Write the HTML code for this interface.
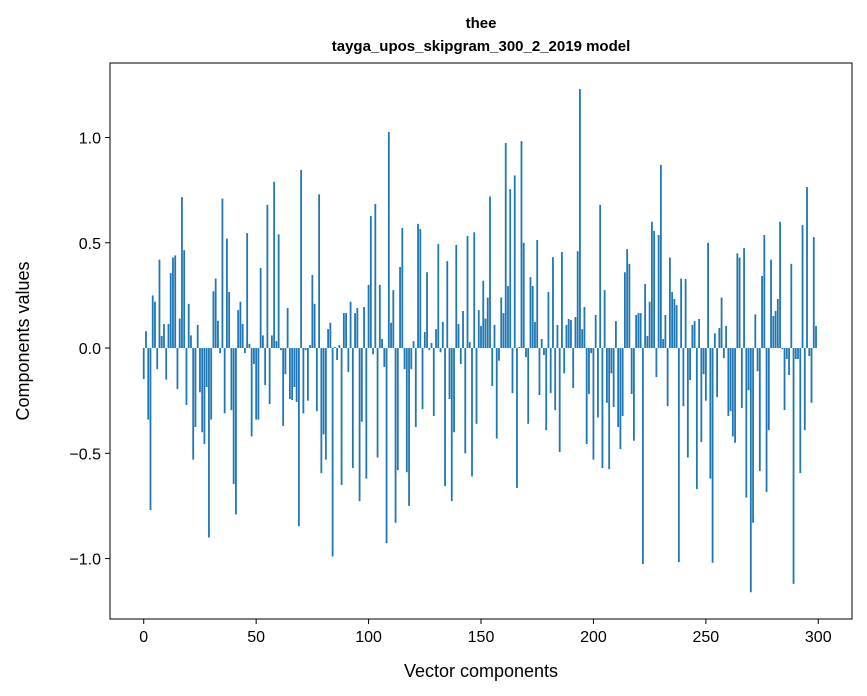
<!DOCTYPE html>
<html><head><meta charset="utf-8"><style>
html,body{margin:0;padding:0;background:#fff;}
svg{display:block;font-family:"Liberation Sans",sans-serif;}
</style></head><body>
<svg id="chart" width="867" height="696">
<text x="481" y="28" text-anchor="middle" font-size="15" font-weight="bold">thee</text>
<text x="481" y="51" text-anchor="middle" font-size="15" font-weight="bold">tayga_upos_skipgram_300_2_2019 model</text>
<g id="bars"></g>
<g id="axes"></g>
<text x="481" y="677" text-anchor="middle" font-size="18">Vector components</text>
<text transform="translate(29,341) rotate(-90)" text-anchor="middle" font-size="18">Components values</text>
</svg>
<script>
const values = [-0.147,0.08,-0.34,-0.77,0.25,0.22,-0.10,0.42,0.057,0.114,
-0.15,0.114,0.356,0.43,0.44,-0.195,0.14,0.717,0.465,-0.27,
0.21,0.06,-0.53,-0.375,0.11,-0.21,-0.40,-0.456,-0.185,-0.90,
-0.34,0.27,0.33,0.13,-0.024,0.71,-0.31,0.52,0.266,-0.295,
-0.646,-0.79,0.18,0.22,0.114,-0.024,0.546,0.02,-0.42,-0.076,
-0.34,-0.34,0.38,0.06,-0.176,0.68,-0.266,0.06,0.79,0.033,
0.54,-0.01,-0.37,-0.124,0.19,-0.242,-0.247,-0.185,-0.256,-0.846,
0.846,-0.31,-0.01,-0.25,0.014,0.347,0.21,-0.3,0.73,-0.594,
-0.41,-0.53,0.09,0.12,-0.99,0.005,-0.057,0.014,-0.65,0.166,
0.166,-0.114,0.22,-0.57,0.166,0.19,-0.727,-0.35,0.195,-0.62,
0.30,0.627,-0.03,0.684,-0.52,0.30,0.043,-0.09,-0.926,1.026,
0.12,0.275,-0.83,-0.58,0.385,0.57,-0.10,-0.59,-0.75,-0.10,
0.033,-0.375,0.59,0.565,-0.29,0.076,0.36,-0.01,0.024,-0.323,
0.09,0.494,-0.02,0.124,-0.656,0.413,-0.242,-0.727,-0.40,0.49,
0.114,-0.076,0.176,-0.50,0.532,0.028,-0.61,0.55,-0.36,0.18,
0.105,0.32,0.14,0.24,0.72,-0.18,0.11,-0.43,-0.06,0.24,
0.166,0.974,0.295,0.755,-0.214,0.82,-0.665,0.005,0.983,0.50,
-0.043,-0.36,0.337,0.295,0.124,0.513,-0.223,0.043,-0.033,-0.39,
0.266,-0.214,0.432,-0.295,0.11,-0.494,0.456,-0.12,0.11,0.138,
0.133,-0.19,0.147,0.46,1.23,0.09,0.195,-0.456,-0.218,-0.024,
-0.53,0.157,-0.33,0.68,-0.57,0.275,-0.26,-0.575,-0.12,-0.28,
0.128,-0.375,-0.48,-0.323,0.36,0.47,0.40,-0.218,-0.44,0.157,
0.166,0.166,-1.026,0.304,0.057,0.22,0.60,0.556,-0.138,0.537,
0.87,0.043,0.157,-0.276,0.43,0.266,0.233,0.204,-1.017,0.33,
-0.276,0.328,-0.52,-0.152,0.11,0.128,-0.67,0.138,-0.447,-0.124,
-0.25,0.50,-0.62,-1.02,0.07,-0.233,0.095,0.24,-0.048,0.105,
-0.323,-0.30,-0.42,-0.45,0.45,0.43,-0.285,0.475,-0.71,-0.2,
-1.16,-0.83,0.16,-0.11,-0.584,0.342,0.537,-0.684,-0.39,0.42,
0.152,0.176,0.233,0.60,-0.005,-0.295,-0.052,-0.128,0.40,-1.12,
-0.052,-0.052,-0.594,0.584,-0.39,0.765,-0.038,-0.26,0.527,0.105];
const xTicks = [0,50,100,150,200,250,300];
const yTicks = [-1.0,-0.5,0.0,0.5,1.0];
const yTickLabels = ["\u22121.0","\u22120.5","0.0","0.5","1.0"];

const L=110,R=852,T=63,B=619;
const xMin=-15,xMax=315,yMin=-1.287,yMax=1.354;
const sx=v=>L+(v-xMin)/(xMax-xMin)*(R-L);
const sy=v=>B-(v-yMin)/(yMax-yMin)*(B-T);
const NS="http://www.w3.org/2000/svg";
const bars=document.getElementById('bars');
values.forEach((v,i)=>{
  const r=document.createElementNS(NS,'rect');
  const x0=sx(i-0.4),x1=sx(i+0.4);
  const y0=sy(Math.max(v,0)),y1=sy(Math.min(v,0));
  r.setAttribute('x',x0);r.setAttribute('width',x1-x0);
  r.setAttribute('y',y0);r.setAttribute('height',Math.max(y1-y0,0.3));
  r.setAttribute('fill','#1f77b4');
  
  
  bars.appendChild(r);
});
const axes=document.getElementById('axes');
const frame=document.createElementNS(NS,'rect');
frame.setAttribute('x',L);frame.setAttribute('y',T);
frame.setAttribute('width',R-L);frame.setAttribute('height',B-T);
frame.setAttribute('fill','none');frame.setAttribute('stroke','#000');frame.setAttribute('stroke-width','1');


axes.appendChild(frame);
xTicks.forEach(t=>{
  const x=sx(t);
  const l=document.createElementNS(NS,'line');
  l.setAttribute('x1',x);l.setAttribute('x2',x);l.setAttribute('y1',B);l.setAttribute('y2',B+5);
  l.setAttribute('stroke','#000');
  
  
  axes.appendChild(l);
  const tx=document.createElementNS(NS,'text');
  tx.setAttribute('x',x);tx.setAttribute('y',B+23);tx.setAttribute('text-anchor','middle');tx.setAttribute('font-size','16');
  tx.textContent=String(t);
  
  
  axes.appendChild(tx);
});
yTicks.forEach((t,k)=>{
  const y=sy(t);
  const l=document.createElementNS(NS,'line');
  l.setAttribute('x1',L-5);l.setAttribute('x2',L);l.setAttribute('y1',y);l.setAttribute('y2',y);
  l.setAttribute('stroke','#000');
  
  
  axes.appendChild(l);
  const tx=document.createElementNS(NS,'text');
  tx.setAttribute('x',L-9);tx.setAttribute('y',y+6);tx.setAttribute('text-anchor','end');tx.setAttribute('font-size','16');
  tx.textContent=yTickLabels[k];
  
  
  axes.appendChild(tx);
});
</script>
</body></html>
